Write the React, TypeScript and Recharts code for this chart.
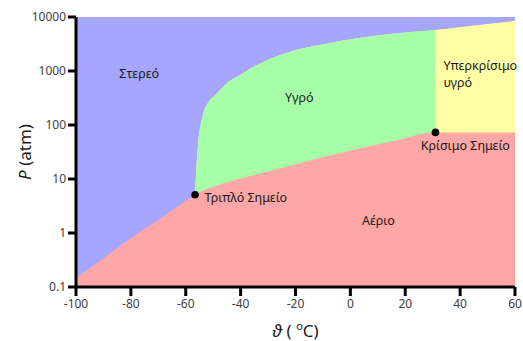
import { ComposedChart, Area, Scatter, XAxis, YAxis, CartesianGrid, ReferenceDot, Label } from 'recharts';

document.body.style.margin = '0';

const FONT = '"Noto Sans", "DejaVu Sans", sans-serif';

// CO2 phase diagram
const sublimationT = [-100, -90, -80, -70, -60, -56.6];
const sublimationP = [0.145, 0.34, 0.8, 1.75, 3.9, 5.1];

const vaporT = [-52.2, -46.2, -34, -21.9, -9.7, 2.4, 14.6, 31];
const vaporP = [6.5, 8.3, 12.2, 17.6, 25.5, 36, 49, 73];

// gas / supercritical boundary right of the critical point
const superGasT = [60];
const superGasP = [73];

const meltingT = [-56.6, -56.0, -55.3, -54.2, -53.4, -51.8, -49.2, -44.9, -40.1, -34, -21.9, -9.7, 2.4, 14.6, 31, 45, 60];
const meltingP = [5.1, 20, 57, 120, 176, 260, 360, 600, 843, 1290, 2280, 3120, 4030, 4840, 5740, 6960, 8500];

const T_CRIT = 31;

const specialPoints = [
  { t: -56.6, p: 5.1 },
  { t: 31, p: 73 },
];

const regionLabels = [
  { t: -77, p: 900, text: 'Στερεό', anchor: 'middle' },
  { t: -18.6, p: 320, text: 'Υγρό', anchor: 'middle' },
  { t: 10.2, p: 1.67, text: 'Αέριο', anchor: 'middle' },
  { t: 33.9, p: 1290, text: 'Υπερκρίσιμο', anchor: 'start' },
  { t: 33.9, p: 606, text: 'υγρό', anchor: 'start' },
  { t: 41.9, p: 42.6, text: 'Κρίσιμο Σημείο', anchor: 'middle' },
  { t: -53.2, p: 4.45, text: 'Τριπλό Σημείο', anchor: 'start' },
];

const xTicks = [-100, -80, -60, -40, -20, 0, 20, 40, 60];
const yTicks = [0.1, 1, 10, 100, 1000, 10000];

const COLORS = {
  solid: '#a6a6ff',
  liquid: '#a6ffa6',
  gas: '#ffa6a6',
  supercritical: '#ffffa6',
};

type Row = { t: number; gas?: number; melt?: number; liq?: number };

function buildRows(): Row[] {
  const map = new Map<number, Row>();
  const put = (t: number, key: 'gas' | 'melt' | 'liq', v: number) => {
    if (!map.has(t)) map.set(t, { t });
    map.get(t)![key] = v;
  };
  sublimationT.forEach((t, i) => put(t, 'gas', sublimationP[i]));
  vaporT.forEach((t, i) => put(t, 'gas', vaporP[i]));
  superGasT.forEach((t, i) => put(t, 'gas', superGasP[i]));
  meltingT.forEach((t, i) => {
    put(t, 'melt', meltingP[i]);
    if (t <= T_CRIT) put(t, 'liq', meltingP[i]);
  });
  return Array.from(map.values()).sort((a, b) => a.t - b.t);
}

const rows = buildRows();

const axisLine = { stroke: '#000', strokeWidth: 3 };
const tickStyle = { fill: '#404040', fontSize: 12, fontFamily: FONT };

function YTitle({ viewBox }: any) {
  const cx = viewBox.x + 24;
  const cy = viewBox.y + viewBox.height / 2;
  return (
    <text
      x={cx}
      y={cy}
      transform={`rotate(-90 ${cx} ${cy})`}
      textAnchor="middle"
      dominantBaseline="central"
      fontSize={17}
      fontFamily={FONT}
      fill="#1a1a1a"
    >
      <tspan fontStyle="italic">P</tspan>
      <tspan> (atm)</tspan>
    </text>
  );
}

function XTitle({ viewBox }: any) {
  const cx = viewBox.x + viewBox.width / 2;
  const cy = viewBox.y + 43;
  return (
    <text x={cx} y={cy} textAnchor="middle" dominantBaseline="central" fontSize={17} fontFamily={FONT} fill="#1a1a1a">
      <tspan fontStyle="italic">ϑ</tspan>
      <tspan> ( </tspan>
      <tspan fontSize={11} dy={-5}>o</tspan>
      <tspan dy={5}>C)</tspan>
    </text>
  );
}

export default function App() {
  return (
    <ComposedChart
      width={523}
      height={341}
      data={rows}
      margin={{ top: 17, right: 8, bottom: 0, left: 0 }}
      style={{ fontFamily: FONT }}
    >
      <CartesianGrid horizontal={false} vertical={false} fill={COLORS.solid} />
      <XAxis
        dataKey="t"
        type="number"
        domain={[-100, 60]}
        ticks={xTicks}
        interval={0}
        allowDataOverflow
        height={54}
        tickSize={9}
        tickMargin={3}
        axisLine={axisLine}
        tickLine={axisLine}
        tick={tickStyle}
      >
        <Label content={XTitle} />
      </XAxis>
      <XAxis xAxisId="top" orientation="top" type="number" domain={[-100, 60]} height={0} tick={false} tickLine={false} axisLine={axisLine} />
      <YAxis
        scale="log"
        domain={[0.1, 10000]}
        ticks={yTicks}
        interval={0}
        allowDataOverflow
        width={76}
        tickSize={8}
        tickMargin={2}
        axisLine={axisLine}
        tickLine={axisLine}
        tick={tickStyle}
        tickFormatter={(v: number) => String(v)}
      >
        <Label content={YTitle} />
      </YAxis>
      <YAxis yAxisId="right" orientation="right" width={0} tick={false} tickLine={false} axisLine={axisLine} />

      <Area dataKey="melt" type="monotone" connectNulls fill={COLORS.supercritical} fillOpacity={1} stroke="none" isAnimationActive={false} />
      <Area dataKey="liq" type="monotone" connectNulls fill={COLORS.liquid} fillOpacity={1} stroke="none" isAnimationActive={false} />
      <Area dataKey="gas" type="monotone" connectNulls fill={COLORS.gas} fillOpacity={1} stroke="none" isAnimationActive={false} />

      <Scatter
        data={specialPoints}
        dataKey="p"
        isAnimationActive={false}
        shape={(p: any) => <circle cx={p.cx} cy={p.cy} r={3.8} fill="#000" />}
      />

      {regionLabels.map((l) => (
        <ReferenceDot
          key={l.text}
          x={l.t}
          y={l.p}
          r={0}
          fill="none"
          stroke="none"
          label={(props: any) => (
            <text
              x={props.viewBox.x}
              y={props.viewBox.y}
              textAnchor={l.anchor as any}
              dominantBaseline="central"
              fontSize={12.5}
              fontFamily={FONT}
              fill="#1a1a1a"
            >
              {l.text}
            </text>
          )}
        />
      ))}
    </ComposedChart>
  );
}
